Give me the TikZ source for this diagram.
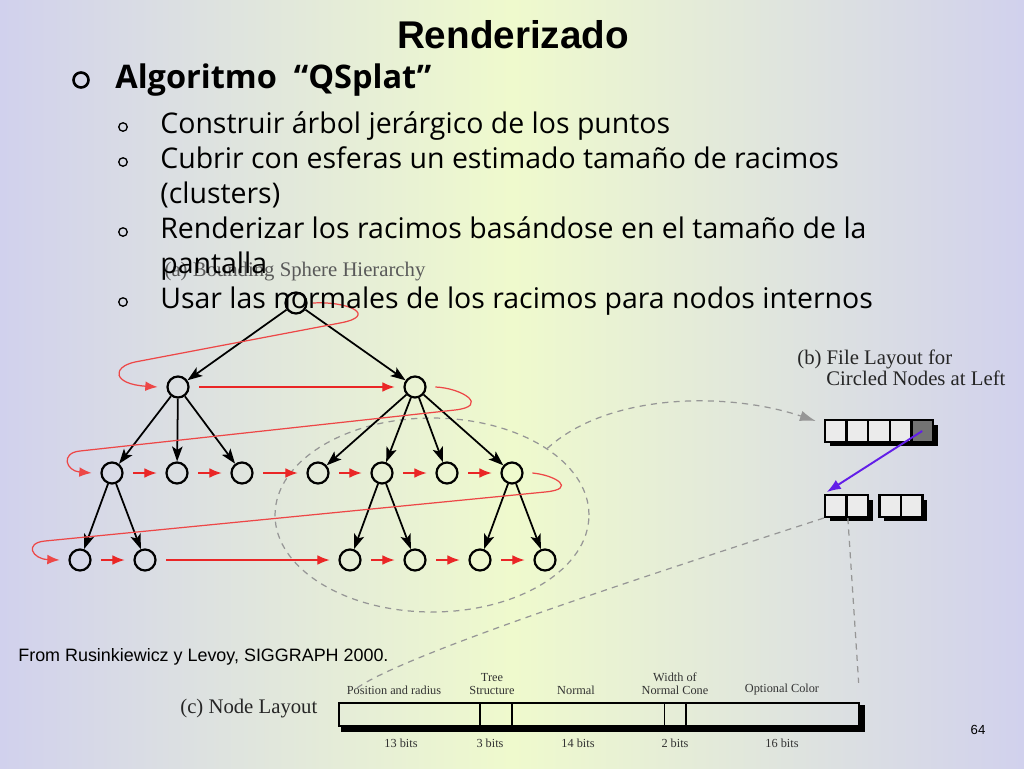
\documentclass[tikz,border=0pt]{standalone}
\usepackage{fontspec}
\setmainfont{Open Sans}
\newfontfamily\headfont{Liberation Sans}
\newfontfamily\figfont{Liberation Serif}
\usetikzlibrary{positioning,arrows.meta,calc,shapes.geometric,shadows}

\definecolor{slidelav}{RGB}{209,209,237}
\definecolor{slideyel}{RGB}{239,250,205}
\definecolor{loopred}{RGB}{234,38,38}
\definecolor{linkgrey}{RGB}{150,150,150}
\definecolor{ptrviolet}{RGB}{98,30,232}

\begin{document}
\begin{tikzpicture}[x=0.02cm, y=-0.02cm,
  tnode/.style={circle, draw, line width=1.25pt, minimum size=0.42cm, inner sep=0pt},
  tedge/.style={line width=1pt, -{Stealth[length=8.5pt,width=6pt,inset=2pt]}},
  redarr/.style={loopred, line width=0.7pt, -{Latex[length=7pt,width=5.5pt]},
    shorten <=5.5pt, shorten >=5pt},
  redloop/.style={loopred!85, line width=0.7pt, -{Latex[length=7pt,width=5.5pt]}},
  filecell/.style={rectangle, draw, line width=1.4pt, minimum size=0.432cm, inner sep=0pt,
    drop shadow={shadow xshift=0.09cm, shadow yshift=-0.09cm, opacity=1, fill=black}},
  linkdash/.style={linkgrey, line width=0.7pt, dash pattern=on 3.5pt off 3pt},
  figlbl/.style={font=\figfont\fontsize{11.8}{14}\selectfont, text=black!85, inner sep=0pt},
  fieldlbl/.style={font=\figfont\fontsize{7}{7.6}\selectfont, align=center, text=black!80, inner sep=0pt},
  bodytxt/.style={anchor=base west, inner sep=0pt, font=\fontsize{16.2}{19.8}\selectfont},
  subbullet/.style={circle, draw, line width=0.75pt, minimum size=0.17cm, inner sep=0pt}
]
  \useasboundingbox (0,0) rectangle (1024,768);
  \shade[left color=slidelav, right color=slidelav, middle color=slideyel] (0,0) rectangle (1024,768);

  % (a) sphere hierarchy
  \node[figlbl, text=black!65] (capa) at (295,272) {(a) Bounding Sphere Hierarchy};
  \node[ellipse, draw=linkgrey, line width=0.7pt, dash pattern=on 3.5pt off 3pt,
    minimum width=6.28cm, minimum height=3.88cm, inner sep=0pt] (clus) at (432,515) {};

  \node[tnode] (r)  at (296,303) {};
  \node[tnode] (a1) at (178,387) {};
  \node[tnode] (a2) at (415,387) {};
  \node[tnode] (b1) at (112,473) {};
  \node[tnode] (b2) at (177,473) {};
  \node[tnode] (b3) at (242,473) {};
  \node[tnode] (b4) at (318,473) {};
  \node[tnode] (b5) at (382,473) {};
  \node[tnode] (b6) at (447,473) {};
  \node[tnode] (b7) at (512,473) {};
  \node[tnode] (c1) at (80,560)  {};
  \node[tnode] (c2) at (145,560) {};
  \node[tnode] (c3) at (350,560) {};
  \node[tnode] (c4) at (415,560) {};
  \node[tnode] (c5) at (480,560) {};
  \node[tnode] (c6) at (545,560) {};

  \foreach \p/\c in {r/a1, r/a2, a1/b1, a1/b2, a1/b3, a2/b4, a2/b5, a2/b6, a2/b7,
                     b1/c1, b1/c2, b5/c3, b5/c4, b7/c5, b7/c6}
    \draw[tedge] (\p) -- (\c);

  % traversal order
  \foreach \p/\c in {a1/a2, b1/b2, b2/b3, b3/b4, b4/b5, b5/b6, b6/b7,
                     c1/c2, c2/c3, c3/c4, c4/c5, c5/c6}
    \draw[redarr] (\p) -- (\c);
  \draw[redloop] ([xshift=3pt]r.east) .. controls (350,301) and (378,316) .. (340,323)
    -- (135,362) .. controls (112,367) and (112,384) .. ([xshift=-5pt]a1.west);
  \draw[redloop] ([xshift=5pt]a2.east) .. controls (462,388) and (490,406) .. (455,410)
    -- (80,451) .. controls (60,453) and (66,471) .. ([xshift=-5pt]b1.west);
  \draw[redloop] ([xshift=5pt]b7.east) .. controls (555,475) and (578,489) .. (545,492)
    -- (45,541) .. controls (24,543) and (32,559) .. ([xshift=-5pt]c1.west);

  % (b) file layout
  \node[figlbl, anchor=base west] (capb1) at (797,364) {(b) File Layout for};
  \node[figlbl, anchor=base west] (capb2) at (826,385) {Circled Nodes at Left};
  \foreach \i/\f in {0/gray!16, 1/gray!16, 2/gray!16, 3/gray!16, 4/black!55}
    \node[filecell, fill=\f] (t\i) at ({835.8+21.6*\i},431) {};
  \foreach \i/\x in {0/835.8, 1/857.4, 2/890.2, 3/911.8}
    \node[filecell, fill=gray!16] (f\i) at (\x,506) {};
  \draw[ptrviolet, line width=1.1pt, -{Latex[length=8pt,width=6pt]}, shorten >=2pt]
    (t4.center) -- (f0.north west);
  \draw[linkdash, -{Latex[length=9pt,width=6pt]}, linkgrey]
    (clus.30) .. controls +(60,-55) and +(-90,-30) .. ([shift={(-8,-10)}]t0.west);

  % (c) node layout
  \node[draw, line width=1.1pt, minimum width=10.4cm, minimum height=0.46cm, inner sep=0pt] (bar) at (599,714.5) {};
  \draw[line width=2.6pt] ($(bar.south west)+(3,2.5)$) -- ($(bar.south east)+(2.5,2.5)$)
    -- ($(bar.north east)+(2.5,3)$);
  \foreach \x in {480,512,664.5,686}
    \draw[line width=1.1pt] (\x,0 |- bar.north) -- (\x,0 |- bar.south);
  \draw[linkdash, shorten >=12pt] (f0.south west) .. controls +(-200,65) and +(60,-45) .. (bar.north west);
  \draw[linkdash, shorten >=11pt] (f0.south east) -- (bar.north east);
  \node[figlbl, anchor=base west] (capc) at (180,713) {(c) Node Layout};
  \node[fieldlbl, anchor=south] (fpos) at (394,695) {Position and radius};
  \node[fieldlbl, anchor=south] (ftree) at (492,695) {Tree\\Structure};
  \node[fieldlbl, anchor=south] (fnorm) at (576,695) {Normal};
  \node[fieldlbl, anchor=south] (fcone) at (675,695) {Width of\\Normal Cone};
  \node[fieldlbl, anchor=south] (fcol) at (782,695) {Optional Color};
  \node[fieldlbl, anchor=base] (bpos) at (401,747) {13 bits};
  \node[fieldlbl, anchor=base] (btree) at (490,747) {3 bits};
  \node[fieldlbl, anchor=base] (bnorm) at (578,747) {14 bits};
  \node[fieldlbl, anchor=base] (bcone) at (675,747) {2 bits};
  \node[fieldlbl, anchor=base] (bcol) at (782,747) {16 bits};

  % slide text
  \node[font=\headfont\bfseries\fontsize{22}{26}\selectfont] (title) at (513,35) {Renderizado};
  \node[circle, draw, line width=1.5pt, minimum size=0.3cm, inner sep=0pt] (hb) at (81,80) {};
  \node[anchor=base west, inner sep=0pt, font=\bfseries\fontsize{18.5}{22}\selectfont] (head) at (115,88)
    {Algoritmo \ “QSplat”};
  \foreach \y in {127,162,232,302}
    \node[subbullet] at (123,\y) {};
  \node[bodytxt] (l1)  at (160,133) {Construir árbol jerárgico de los puntos};
  \node[bodytxt] (l2)  at (160,168) {Cubrir con esferas un estimado tamaño de racimos};
  \node[bodytxt] (l2b) at (160,203) {(clusters)};
  \node[bodytxt] (l3)  at (160,238) {Renderizar los racimos basándose en el tamaño de la};
  \node[bodytxt] (l3b) at (160,273) {pantalla};
  \node[bodytxt] (l4)  at (160,308) {Usar las normales de los racimos para nodos internos};
  \node[anchor=base west, inner sep=0pt, font=\headfont\fontsize{10.2}{12}\selectfont] (src) at (18,661)
    {From Rusinkiewicz y Levoy, SIGGRAPH 2000.};
  \node[font=\headfont\fontsize{7.5}{9}\selectfont] (pg) at (978,730) {64};
\end{tikzpicture}
\end{document}
